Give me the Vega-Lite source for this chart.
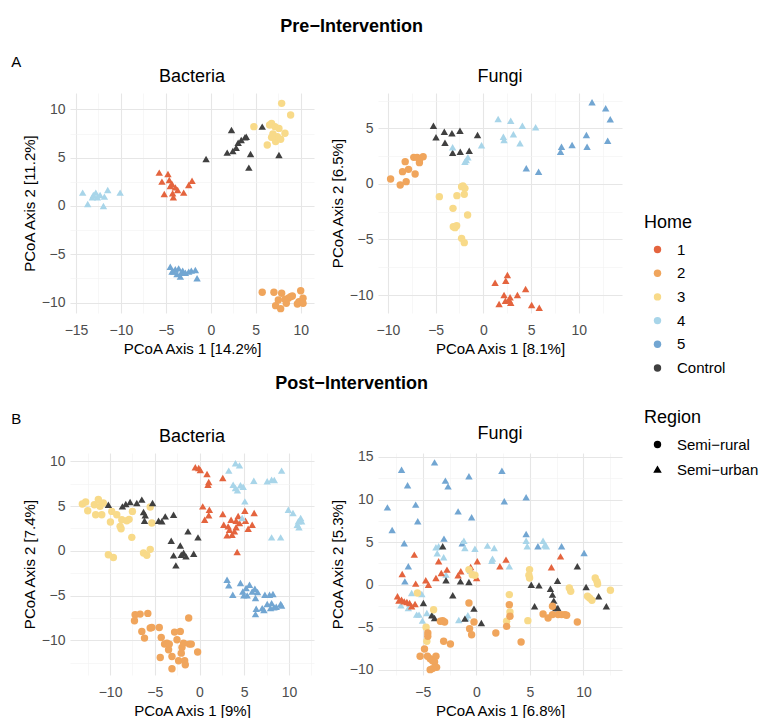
{
  "$schema": "https://vega.github.io/schema/vega-lite/v6.json",
  "background": "white",
  "padding": {"left": 11, "top": 18, "right": 0, "bottom": 0},
  "spacing": 18,
  "config": {
    "font": "Liberation Sans",
    "view": {"stroke": null},
    "axis": {
      "ticks": false,
      "domain": false,
      "labelFont": "Liberation Sans",
      "labelFontSize": 14,
      "labelColor": "#4D4D4D",
      "titleFont": "Liberation Sans",
      "titleFontSize": 15,
      "titleFontWeight": "normal",
      "titleColor": "#000000",
      "titlePadding": 4,
      "labelOverlap": false,
      "labelFlush": false
    },
    "axisX": {"labelPadding": 10},
    "axisY": {"labelPadding": 5},
    "legend": {
      "labelFont": "Liberation Sans",
      "labelFontSize": 15,
      "labelColor": "#000000",
      "titleFont": "Liberation Sans",
      "titleFontSize": 18,
      "titleFontWeight": "normal",
      "titleColor": "#000000"
    },
    "concat": {"spacing": 16}
  },
  "datasets": {
    "preBacteria": [
      {"home": "4", "region": "Semi−urban", "x": -14.26, "y": 1.38},
      {"home": "4", "region": "Semi−urban", "x": -13.7, "y": 0.21},
      {"home": "4", "region": "Semi−urban", "x": -13.07, "y": 1.14},
      {"home": "4", "region": "Semi−urban", "x": -12.8, "y": 1.38},
      {"home": "4", "region": "Semi−urban", "x": -12.62, "y": 0.9},
      {"home": "4", "region": "Semi−urban", "x": -12.32, "y": 1.14},
      {"home": "4", "region": "Semi−urban", "x": -11.95, "y": 0.0},
      {"home": "4", "region": "Semi−urban", "x": -11.84, "y": 0.97},
      {"home": "4", "region": "Semi−urban", "x": -11.47, "y": 1.66},
      {"home": "4", "region": "Semi−urban", "x": -10.09, "y": 1.38},
      {"home": "4", "region": "Semi−urban", "x": -13.18, "y": 0.9},
      {"home": "1", "region": "Semi−urban", "x": -5.74, "y": 3.45},
      {"home": "1", "region": "Semi−urban", "x": -5.44, "y": 2.52},
      {"home": "1", "region": "Semi−urban", "x": -5.18, "y": 1.24},
      {"home": "1", "region": "Semi−urban", "x": -4.77, "y": 3.31},
      {"home": "1", "region": "Semi−urban", "x": -4.62, "y": 2.69},
      {"home": "1", "region": "Semi−urban", "x": -4.51, "y": 2.07},
      {"home": "1", "region": "Semi−urban", "x": -4.25, "y": 1.31},
      {"home": "1", "region": "Semi−urban", "x": -4.17, "y": 0.9},
      {"home": "1", "region": "Semi−urban", "x": -3.95, "y": 1.93},
      {"home": "1", "region": "Semi−urban", "x": -3.69, "y": 1.66},
      {"home": "1", "region": "Semi−urban", "x": -3.02, "y": 1.38},
      {"home": "1", "region": "Semi−urban", "x": -2.46, "y": 2.17},
      {"home": "1", "region": "Semi−urban", "x": -2.09, "y": 2.62},
      {"home": "1", "region": "Semi−urban", "x": -4.32, "y": 2.28},
      {"home": "5", "region": "Semi−urban", "x": -4.51, "y": -6.28},
      {"home": "5", "region": "Semi−urban", "x": -4.32, "y": -6.79},
      {"home": "5", "region": "Semi−urban", "x": -3.95, "y": -6.55},
      {"home": "5", "region": "Semi−urban", "x": -3.76, "y": -7.03},
      {"home": "5", "region": "Semi−urban", "x": -3.58, "y": -6.45},
      {"home": "5", "region": "Semi−urban", "x": -3.39, "y": -7.31},
      {"home": "5", "region": "Semi−urban", "x": -3.13, "y": -6.69},
      {"home": "5", "region": "Semi−urban", "x": -2.83, "y": -6.9},
      {"home": "5", "region": "Semi−urban", "x": -2.46, "y": -6.79},
      {"home": "5", "region": "Semi−urban", "x": -2.17, "y": -6.69},
      {"home": "5", "region": "Semi−urban", "x": -1.72, "y": -6.62},
      {"home": "5", "region": "Semi−urban", "x": -1.53, "y": -7.48},
      {"home": "5", "region": "Semi−urban", "x": -4.14, "y": -6.79},
      {"home": "5", "region": "Semi−urban", "x": -3.28, "y": -6.9},
      {"home": "Control", "region": "Semi−urban", "x": -0.53, "y": 4.86},
      {"home": "Control", "region": "Semi−urban", "x": 1.82, "y": 5.52},
      {"home": "Control", "region": "Semi−urban", "x": 2.3, "y": 7.86},
      {"home": "Control", "region": "Semi−urban", "x": 2.45, "y": 5.69},
      {"home": "Control", "region": "Semi−urban", "x": 2.82, "y": 6.03},
      {"home": "Control", "region": "Semi−urban", "x": 3.04, "y": 6.55},
      {"home": "Control", "region": "Semi−urban", "x": 3.38, "y": 6.83},
      {"home": "Control", "region": "Semi−urban", "x": 3.79, "y": 7.1},
      {"home": "Control", "region": "Semi−urban", "x": 3.94, "y": 7.17},
      {"home": "Control", "region": "Semi−urban", "x": 4.42, "y": 5.38},
      {"home": "Control", "region": "Semi−urban", "x": 4.23, "y": 3.97},
      {"home": "Control", "region": "Semi−urban", "x": 5.72, "y": 8.21},
      {"home": "Control", "region": "Semi−urban", "x": 7.58, "y": 5.28},
      {"home": "3", "region": "Semi−rural", "x": 4.79, "y": 8.21},
      {"home": "3", "region": "Semi−rural", "x": 6.28, "y": 6.31},
      {"home": "3", "region": "Semi−rural", "x": 6.54, "y": 8.38},
      {"home": "3", "region": "Semi−rural", "x": 6.76, "y": 8.55},
      {"home": "3", "region": "Semi−rural", "x": 6.91, "y": 7.45},
      {"home": "3", "region": "Semi−rural", "x": 7.14, "y": 8.21},
      {"home": "3", "region": "Semi−rural", "x": 7.21, "y": 6.66},
      {"home": "3", "region": "Semi−rural", "x": 7.4, "y": 7.17},
      {"home": "3", "region": "Semi−rural", "x": 7.58, "y": 8.03},
      {"home": "3", "region": "Semi−rural", "x": 7.77, "y": 6.9},
      {"home": "3", "region": "Semi−rural", "x": 7.88, "y": 10.62},
      {"home": "3", "region": "Semi−rural", "x": 8.25, "y": 7.52},
      {"home": "3", "region": "Semi−rural", "x": 8.88, "y": 9.41},
      {"home": "3", "region": "Semi−rural", "x": 6.76, "y": 7.1},
      {"home": "2", "region": "Semi−rural", "x": 5.72, "y": -8.93},
      {"home": "2", "region": "Semi−rural", "x": 7.02, "y": -8.93},
      {"home": "2", "region": "Semi−rural", "x": 7.21, "y": -10.31},
      {"home": "2", "region": "Semi−rural", "x": 7.77, "y": -10.62},
      {"home": "2", "region": "Semi−rural", "x": 7.88, "y": -9.03},
      {"home": "2", "region": "Semi−rural", "x": 8.25, "y": -9.66},
      {"home": "2", "region": "Semi−rural", "x": 8.4, "y": -10.07},
      {"home": "2", "region": "Semi−rural", "x": 8.62, "y": -9.55},
      {"home": "2", "region": "Semi−rural", "x": 8.88, "y": -9.38},
      {"home": "2", "region": "Semi−rural", "x": 9.07, "y": -9.31},
      {"home": "2", "region": "Semi−rural", "x": 9.63, "y": -10.14},
      {"home": "2", "region": "Semi−rural", "x": 10.0, "y": -8.76},
      {"home": "2", "region": "Semi−rural", "x": 9.81, "y": -9.9},
      {"home": "2", "region": "Semi−rural", "x": 10.26, "y": -9.55},
      {"home": "2", "region": "Semi−rural", "x": 10.26, "y": -10.07},
      {"home": "2", "region": "Semi−rural", "x": 7.51, "y": -9.72}
    ],
    "preFungi": [
      {"home": "2", "region": "Semi−rural", "x": -9.72, "y": 0.44},
      {"home": "2", "region": "Semi−rural", "x": -8.71, "y": -0.1},
      {"home": "2", "region": "Semi−rural", "x": -8.47, "y": 1.1},
      {"home": "2", "region": "Semi−rural", "x": -8.19, "y": 2.0},
      {"home": "2", "region": "Semi−rural", "x": -8.09, "y": 0.2},
      {"home": "2", "region": "Semi−rural", "x": -7.84, "y": 1.31},
      {"home": "2", "region": "Semi−rural", "x": -7.29, "y": 2.39},
      {"home": "2", "region": "Semi−rural", "x": -7.15, "y": 0.89},
      {"home": "2", "region": "Semi−rural", "x": -6.94, "y": 2.39},
      {"home": "2", "region": "Semi−rural", "x": -6.7, "y": 1.91},
      {"home": "2", "region": "Semi−rural", "x": -6.66, "y": 2.21},
      {"home": "2", "region": "Semi−rural", "x": -6.31, "y": 2.45},
      {"home": "Control", "region": "Semi−urban", "x": -5.23, "y": 5.24},
      {"home": "Control", "region": "Semi−urban", "x": -4.96, "y": 4.19},
      {"home": "Control", "region": "Semi−urban", "x": -4.09, "y": 4.7},
      {"home": "Control", "region": "Semi−urban", "x": -4.02, "y": 3.71},
      {"home": "Control", "region": "Semi−urban", "x": -3.29, "y": 4.55},
      {"home": "Control", "region": "Semi−urban", "x": -3.22, "y": 2.81},
      {"home": "Control", "region": "Semi−urban", "x": -2.45, "y": 4.79},
      {"home": "Control", "region": "Semi−urban", "x": -2.42, "y": 2.9},
      {"home": "Control", "region": "Semi−urban", "x": -1.48, "y": 2.99},
      {"home": "Control", "region": "Semi−urban", "x": -0.61, "y": 4.4},
      {"home": "4", "region": "Semi−urban", "x": -3.22, "y": 3.29},
      {"home": "4", "region": "Semi−urban", "x": -1.93, "y": 2.0},
      {"home": "4", "region": "Semi−urban", "x": -1.79, "y": 2.15},
      {"home": "4", "region": "Semi−urban", "x": -1.62, "y": 2.39},
      {"home": "4", "region": "Semi−urban", "x": -0.19, "y": 3.47},
      {"home": "4", "region": "Semi−urban", "x": 1.55, "y": 5.84},
      {"home": "4", "region": "Semi−urban", "x": 2.1, "y": 4.25},
      {"home": "4", "region": "Semi−urban", "x": 2.17, "y": 3.95},
      {"home": "4", "region": "Semi−urban", "x": 2.87, "y": 5.69},
      {"home": "4", "region": "Semi−urban", "x": 3.15, "y": 4.46},
      {"home": "4", "region": "Semi−urban", "x": 4.09, "y": 5.24},
      {"home": "4", "region": "Semi−urban", "x": 3.84, "y": 3.65},
      {"home": "4", "region": "Semi−urban", "x": 5.48, "y": 5.09},
      {"home": "3", "region": "Semi−rural", "x": -4.61, "y": -1.15},
      {"home": "3", "region": "Semi−rural", "x": -3.18, "y": -2.2},
      {"home": "3", "region": "Semi−rural", "x": -2.77, "y": -1.06},
      {"home": "3", "region": "Semi−rural", "x": -2.28, "y": -0.25},
      {"home": "3", "region": "Semi−rural", "x": -2.14, "y": -0.19},
      {"home": "3", "region": "Semi−rural", "x": -2.0, "y": -0.94},
      {"home": "3", "region": "Semi−rural", "x": -1.93, "y": -0.4},
      {"home": "3", "region": "Semi−rural", "x": -1.65, "y": -2.8},
      {"home": "3", "region": "Semi−rural", "x": -3.15, "y": -3.85},
      {"home": "3", "region": "Semi−rural", "x": -2.97, "y": -3.94},
      {"home": "3", "region": "Semi−rural", "x": -2.8, "y": -3.76},
      {"home": "3", "region": "Semi−rural", "x": -2.28, "y": -4.9},
      {"home": "3", "region": "Semi−rural", "x": -2.0, "y": -5.29},
      {"home": "5", "region": "Semi−urban", "x": 4.5, "y": 1.4},
      {"home": "5", "region": "Semi−urban", "x": 5.79, "y": 1.1},
      {"home": "5", "region": "Semi−urban", "x": 8.09, "y": 2.9},
      {"home": "5", "region": "Semi−urban", "x": 8.19, "y": 3.35},
      {"home": "5", "region": "Semi−urban", "x": 9.3, "y": 3.5},
      {"home": "5", "region": "Semi−urban", "x": 10.8, "y": 4.4},
      {"home": "5", "region": "Semi−urban", "x": 10.87, "y": 3.35},
      {"home": "5", "region": "Semi−urban", "x": 11.39, "y": 7.34},
      {"home": "5", "region": "Semi−urban", "x": 12.82, "y": 6.8},
      {"home": "5", "region": "Semi−urban", "x": 13.03, "y": 3.89},
      {"home": "5", "region": "Semi−urban", "x": 13.3, "y": 5.81},
      {"home": "1", "region": "Semi−urban", "x": 1.23, "y": -8.89},
      {"home": "1", "region": "Semi−urban", "x": 1.65, "y": -10.81},
      {"home": "1", "region": "Semi−urban", "x": 2.17, "y": -10.0},
      {"home": "1", "region": "Semi−urban", "x": 2.35, "y": -8.71},
      {"home": "1", "region": "Semi−urban", "x": 2.52, "y": -8.2},
      {"home": "1", "region": "Semi−urban", "x": 2.31, "y": -10.51},
      {"home": "1", "region": "Semi−urban", "x": 2.7, "y": -10.45},
      {"home": "1", "region": "Semi−urban", "x": 2.8, "y": -10.21},
      {"home": "1", "region": "Semi−urban", "x": 2.87, "y": -10.69},
      {"home": "1", "region": "Semi−urban", "x": 3.57, "y": -10.0},
      {"home": "1", "region": "Semi−urban", "x": 4.43, "y": -9.46},
      {"home": "1", "region": "Semi−urban", "x": 5.06, "y": -10.9},
      {"home": "1", "region": "Semi−urban", "x": 5.86, "y": -11.14}
    ],
    "postBacteria": [
      {"home": "3", "region": "Semi−rural", "x": -13.1, "y": 5.23},
      {"home": "3", "region": "Semi−rural", "x": -12.73, "y": 5.46},
      {"home": "3", "region": "Semi−rural", "x": -12.5, "y": 4.49},
      {"home": "3", "region": "Semi−rural", "x": -11.76, "y": 5.16},
      {"home": "3", "region": "Semi−rural", "x": -11.61, "y": 4.04},
      {"home": "3", "region": "Semi−rural", "x": -11.31, "y": 5.75},
      {"home": "3", "region": "Semi−rural", "x": -11.12, "y": 4.97},
      {"home": "3", "region": "Semi−rural", "x": -10.75, "y": 5.34},
      {"home": "3", "region": "Semi−rural", "x": -10.93, "y": 4.04},
      {"home": "3", "region": "Semi−rural", "x": -10.19, "y": -0.43},
      {"home": "3", "region": "Semi−rural", "x": -9.81, "y": 4.41},
      {"home": "3", "region": "Semi−rural", "x": -9.63, "y": -0.73},
      {"home": "3", "region": "Semi−rural", "x": -9.96, "y": 3.22},
      {"home": "3", "region": "Semi−rural", "x": -9.25, "y": 4.04},
      {"home": "3", "region": "Semi−rural", "x": -8.88, "y": 2.74},
      {"home": "3", "region": "Semi−rural", "x": -8.77, "y": 2.48},
      {"home": "3", "region": "Semi−rural", "x": -8.69, "y": 3.48},
      {"home": "3", "region": "Semi−rural", "x": -8.13, "y": 3.37},
      {"home": "3", "region": "Semi−rural", "x": -7.87, "y": 3.52},
      {"home": "3", "region": "Semi−rural", "x": -7.57, "y": 1.51},
      {"home": "3", "region": "Semi−rural", "x": -7.5, "y": 4.41},
      {"home": "3", "region": "Semi−rural", "x": -6.26, "y": -0.24},
      {"home": "3", "region": "Semi−rural", "x": -5.89, "y": -0.5},
      {"home": "3", "region": "Semi−rural", "x": -5.51, "y": 0.17},
      {"home": "3", "region": "Semi−rural", "x": -5.51, "y": 4.9},
      {"home": "3", "region": "Semi−rural", "x": -5.33, "y": 3.11},
      {"home": "Control", "region": "Semi−urban", "x": -10.19, "y": 5.16},
      {"home": "Control", "region": "Semi−urban", "x": -8.62, "y": 4.97},
      {"home": "Control", "region": "Semi−urban", "x": -8.24, "y": 5.23},
      {"home": "Control", "region": "Semi−urban", "x": -7.76, "y": 5.46},
      {"home": "Control", "region": "Semi−urban", "x": -7.01, "y": 5.34},
      {"home": "Control", "region": "Semi−urban", "x": -6.45, "y": 5.72},
      {"home": "Control", "region": "Semi−urban", "x": -6.26, "y": 4.34},
      {"home": "Control", "region": "Semi−urban", "x": -6.07, "y": 3.97},
      {"home": "Control", "region": "Semi−urban", "x": -6.15, "y": 3.37},
      {"home": "Control", "region": "Semi−urban", "x": -5.25, "y": 5.34},
      {"home": "Control", "region": "Semi−urban", "x": -4.58, "y": 3.37},
      {"home": "Control", "region": "Semi−urban", "x": -4.21, "y": 3.3},
      {"home": "Control", "region": "Semi−urban", "x": -3.83, "y": 3.85},
      {"home": "Control", "region": "Semi−urban", "x": -2.9, "y": 4.04},
      {"home": "Control", "region": "Semi−urban", "x": -3.16, "y": 1.14},
      {"home": "Control", "region": "Semi−urban", "x": -2.9, "y": -0.5},
      {"home": "Control", "region": "Semi−urban", "x": -2.15, "y": 0.61},
      {"home": "Control", "region": "Semi−urban", "x": -2.04, "y": -0.43},
      {"home": "Control", "region": "Semi−urban", "x": -1.78, "y": -0.2},
      {"home": "Control", "region": "Semi−urban", "x": -1.51, "y": -0.61},
      {"home": "Control", "region": "Semi−urban", "x": -1.29, "y": 2.18},
      {"home": "Control", "region": "Semi−urban", "x": -0.65, "y": -0.32},
      {"home": "Control", "region": "Semi−urban", "x": -0.17, "y": 1.51},
      {"home": "Control", "region": "Semi−urban", "x": -2.64, "y": -1.62},
      {"home": "1", "region": "Semi−urban", "x": -0.47, "y": 9.33},
      {"home": "1", "region": "Semi−urban", "x": -0.09, "y": 9.26},
      {"home": "1", "region": "Semi−urban", "x": 0.09, "y": 9.03},
      {"home": "1", "region": "Semi−urban", "x": 0.84, "y": 8.58},
      {"home": "1", "region": "Semi−urban", "x": 0.95, "y": 7.39},
      {"home": "1", "region": "Semi−urban", "x": 1.03, "y": 7.69},
      {"home": "1", "region": "Semi−urban", "x": 0.36, "y": 4.97},
      {"home": "1", "region": "Semi−urban", "x": 0.58, "y": 3.48},
      {"home": "1", "region": "Semi−urban", "x": 1.03, "y": 3.97},
      {"home": "1", "region": "Semi−urban", "x": 1.1, "y": 4.6},
      {"home": "1", "region": "Semi−urban", "x": 2.6, "y": 8.14},
      {"home": "1", "region": "Semi−urban", "x": 2.6, "y": 4.12},
      {"home": "1", "region": "Semi−urban", "x": 2.71, "y": 2.92},
      {"home": "1", "region": "Semi−urban", "x": 3.2, "y": 2.74},
      {"home": "1", "region": "Semi−urban", "x": 3.35, "y": 2.36},
      {"home": "1", "region": "Semi−urban", "x": 3.53, "y": 3.48},
      {"home": "1", "region": "Semi−urban", "x": 3.64, "y": 1.81},
      {"home": "1", "region": "Semi−urban", "x": 3.91, "y": 2.18},
      {"home": "1", "region": "Semi−urban", "x": 4.09, "y": 3.37},
      {"home": "1", "region": "Semi−urban", "x": 4.09, "y": 2.63},
      {"home": "1", "region": "Semi−urban", "x": 4.32, "y": 3.89},
      {"home": "1", "region": "Semi−urban", "x": 4.47, "y": 3.11},
      {"home": "1", "region": "Semi−urban", "x": 5.07, "y": 4.49},
      {"home": "1", "region": "Semi−urban", "x": 5.14, "y": 3.37},
      {"home": "1", "region": "Semi−urban", "x": 5.44, "y": 2.48},
      {"home": "1", "region": "Semi−urban", "x": 5.89, "y": 2.92},
      {"home": "1", "region": "Semi−urban", "x": 6.11, "y": 4.23},
      {"home": "1", "region": "Semi−urban", "x": 4.21, "y": -0.13},
      {"home": "1", "region": "Semi−urban", "x": 3.08, "y": 1.73},
      {"home": "4", "region": "Semi−urban", "x": 3.27, "y": 8.96},
      {"home": "4", "region": "Semi−urban", "x": 4.02, "y": 9.78},
      {"home": "4", "region": "Semi−urban", "x": 4.47, "y": 9.55},
      {"home": "4", "region": "Semi−urban", "x": 3.76, "y": 7.39},
      {"home": "4", "region": "Semi−urban", "x": 4.02, "y": 7.02},
      {"home": "4", "region": "Semi−urban", "x": 4.24, "y": 6.76},
      {"home": "4", "region": "Semi−urban", "x": 4.58, "y": 7.32},
      {"home": "4", "region": "Semi−urban", "x": 4.88, "y": 7.17},
      {"home": "4", "region": "Semi−urban", "x": 5.07, "y": 5.53},
      {"home": "4", "region": "Semi−urban", "x": 4.77, "y": 3.67},
      {"home": "4", "region": "Semi−urban", "x": 6.07, "y": 7.84},
      {"home": "4", "region": "Semi−urban", "x": 7.57, "y": 7.77},
      {"home": "4", "region": "Semi−urban", "x": 8.06, "y": 7.95},
      {"home": "4", "region": "Semi−urban", "x": 8.36, "y": 7.91},
      {"home": "4", "region": "Semi−urban", "x": 9.18, "y": 8.96},
      {"home": "4", "region": "Semi−urban", "x": 8.06, "y": 1.51},
      {"home": "4", "region": "Semi−urban", "x": 9.07, "y": 1.51},
      {"home": "4", "region": "Semi−urban", "x": 9.93, "y": 4.6},
      {"home": "4", "region": "Semi−urban", "x": 10.45, "y": 4.23},
      {"home": "4", "region": "Semi−urban", "x": 10.93, "y": 2.92},
      {"home": "4", "region": "Semi−urban", "x": 11.05, "y": 3.3},
      {"home": "4", "region": "Semi−urban", "x": 11.31, "y": 3.67},
      {"home": "4", "region": "Semi−urban", "x": 11.42, "y": 3.3},
      {"home": "4", "region": "Semi−urban", "x": 11.12, "y": 2.63},
      {"home": "5", "region": "Semi−urban", "x": 3.08, "y": -3.22},
      {"home": "5", "region": "Semi−urban", "x": 3.27, "y": -3.85},
      {"home": "5", "region": "Semi−urban", "x": 3.72, "y": -4.9},
      {"home": "5", "region": "Semi−urban", "x": 4.58, "y": -3.59},
      {"home": "5", "region": "Semi−urban", "x": 4.84, "y": -4.53},
      {"home": "5", "region": "Semi−urban", "x": 4.95, "y": -4.97},
      {"home": "5", "region": "Semi−urban", "x": 5.21, "y": -4.15},
      {"home": "5", "region": "Semi−urban", "x": 5.33, "y": -4.97},
      {"home": "5", "region": "Semi−urban", "x": 5.59, "y": -3.78},
      {"home": "5", "region": "Semi−urban", "x": 5.89, "y": -4.53},
      {"home": "5", "region": "Semi−urban", "x": 6.19, "y": -4.23},
      {"home": "5", "region": "Semi−urban", "x": 6.26, "y": -5.27},
      {"home": "5", "region": "Semi−urban", "x": 6.49, "y": -4.6},
      {"home": "5", "region": "Semi−urban", "x": 6.26, "y": -7.06},
      {"home": "5", "region": "Semi−urban", "x": 6.34, "y": -6.46},
      {"home": "5", "region": "Semi−urban", "x": 7.01, "y": -6.39},
      {"home": "5", "region": "Semi−urban", "x": 7.2, "y": -6.61},
      {"home": "5", "region": "Semi−urban", "x": 7.31, "y": -4.9},
      {"home": "5", "region": "Semi−urban", "x": 7.57, "y": -5.94},
      {"home": "5", "region": "Semi−urban", "x": 7.83, "y": -4.9},
      {"home": "5", "region": "Semi−urban", "x": 7.94, "y": -6.39},
      {"home": "5", "region": "Semi−urban", "x": 8.21, "y": -4.82},
      {"home": "5", "region": "Semi−urban", "x": 8.32, "y": -6.31},
      {"home": "5", "region": "Semi−urban", "x": 8.58, "y": -6.24},
      {"home": "5", "region": "Semi−urban", "x": 9.07, "y": -5.94},
      {"home": "5", "region": "Semi−urban", "x": 9.18, "y": -6.09},
      {"home": "5", "region": "Semi−urban", "x": 8.06, "y": -5.83},
      {"home": "2", "region": "Semi−rural", "x": -7.27, "y": -7.8},
      {"home": "2", "region": "Semi−rural", "x": -7.2, "y": -7.13},
      {"home": "2", "region": "Semi−rural", "x": -6.64, "y": -7.06},
      {"home": "2", "region": "Semi−rural", "x": -5.78, "y": -6.98},
      {"home": "2", "region": "Semi−rural", "x": -6.45, "y": -8.99},
      {"home": "2", "region": "Semi−rural", "x": -6.15, "y": -9.74},
      {"home": "2", "region": "Semi−rural", "x": -5.51, "y": -8.62},
      {"home": "2", "region": "Semi−rural", "x": -5.33, "y": -8.55},
      {"home": "2", "region": "Semi−rural", "x": -4.5, "y": -8.55},
      {"home": "2", "region": "Semi−rural", "x": -4.28, "y": -9.67},
      {"home": "2", "region": "Semi−rural", "x": -4.39, "y": -11.9},
      {"home": "2", "region": "Semi−rural", "x": -3.91, "y": -10.41},
      {"home": "2", "region": "Semi−rural", "x": -3.64, "y": -10.3},
      {"home": "2", "region": "Semi−rural", "x": -3.46, "y": -11.04},
      {"home": "2", "region": "Semi−rural", "x": -2.79, "y": -9.07},
      {"home": "2", "region": "Semi−rural", "x": -3.08, "y": -11.79},
      {"home": "2", "region": "Semi−rural", "x": -3.08, "y": -13.17},
      {"home": "2", "region": "Semi−rural", "x": -2.52, "y": -9.93},
      {"home": "2", "region": "Semi−rural", "x": -2.15, "y": -8.99},
      {"home": "2", "region": "Semi−rural", "x": -1.96, "y": -10.78},
      {"home": "2", "region": "Semi−rural", "x": -2.04, "y": -11.42},
      {"home": "2", "region": "Semi−rural", "x": -1.78, "y": -10.3},
      {"home": "2", "region": "Semi−rural", "x": -2.34, "y": -12.27},
      {"home": "2", "region": "Semi−rural", "x": -1.66, "y": -12.27},
      {"home": "2", "region": "Semi−rural", "x": -1.59, "y": -12.72},
      {"home": "2", "region": "Semi−rural", "x": -1.21, "y": -7.5},
      {"home": "2", "region": "Semi−rural", "x": -1.14, "y": -10.41},
      {"home": "2", "region": "Semi−rural", "x": -0.92, "y": -10.41},
      {"home": "2", "region": "Semi−rural", "x": -0.21, "y": -11.3},
      {"home": "2", "region": "Semi−rural", "x": -3.38, "y": -10.41}
    ],
    "postFungi": [
      {"home": "5", "region": "Semi−urban", "x": -8.3, "y": 9.08},
      {"home": "5", "region": "Semi−urban", "x": -7.86, "y": 6.42},
      {"home": "5", "region": "Semi−urban", "x": -6.98, "y": 13.51},
      {"home": "5", "region": "Semi−urban", "x": -6.73, "y": 4.85},
      {"home": "5", "region": "Semi−urban", "x": -6.67, "y": 0.38},
      {"home": "5", "region": "Semi−urban", "x": -6.42, "y": 11.67},
      {"home": "5", "region": "Semi−urban", "x": -6.35, "y": 2.15},
      {"home": "5", "region": "Semi−urban", "x": -5.66, "y": 9.4},
      {"home": "5", "region": "Semi−urban", "x": -5.47, "y": 7.44},
      {"home": "5", "region": "Semi−urban", "x": -3.9, "y": 14.37},
      {"home": "5", "region": "Semi−urban", "x": -2.89, "y": 12.22},
      {"home": "5", "region": "Semi−urban", "x": -2.64, "y": 11.55},
      {"home": "5", "region": "Semi−urban", "x": -1.7, "y": 8.61},
      {"home": "5", "region": "Semi−urban", "x": -1.32, "y": 4.85},
      {"home": "5", "region": "Semi−urban", "x": -3.02, "y": 5.4},
      {"home": "5", "region": "Semi−urban", "x": -0.69, "y": 12.73},
      {"home": "5", "region": "Semi−urban", "x": -0.44, "y": 7.91},
      {"home": "5", "region": "Semi−urban", "x": -0.53, "y": 1.68},
      {"home": "5", "region": "Semi−urban", "x": 2.39, "y": 13.39},
      {"home": "5", "region": "Semi−urban", "x": 2.61, "y": 9.79},
      {"home": "5", "region": "Semi−urban", "x": 4.65, "y": 10.26},
      {"home": "5", "region": "Semi−urban", "x": 4.65, "y": 5.95},
      {"home": "5", "region": "Semi−urban", "x": 5.75, "y": 4.5},
      {"home": "5", "region": "Semi−urban", "x": 7.96, "y": 4.5},
      {"home": "5", "region": "Semi−urban", "x": 10.06, "y": 3.71},
      {"home": "4", "region": "Semi−urban", "x": -7.04, "y": -2.44},
      {"home": "4", "region": "Semi−urban", "x": -6.35, "y": -2.75},
      {"home": "4", "region": "Semi−urban", "x": -6.04, "y": -0.99},
      {"home": "4", "region": "Semi−urban", "x": -5.57, "y": -3.53},
      {"home": "4", "region": "Semi−urban", "x": -5.35, "y": -3.53},
      {"home": "4", "region": "Semi−urban", "x": -5.09, "y": -1.1},
      {"home": "4", "region": "Semi−urban", "x": -5.03, "y": -4.24},
      {"home": "4", "region": "Semi−urban", "x": -4.62, "y": -3.34},
      {"home": "4", "region": "Semi−urban", "x": -4.15, "y": -3.53},
      {"home": "4", "region": "Semi−urban", "x": -3.77, "y": 4.38},
      {"home": "4", "region": "Semi−urban", "x": -3.65, "y": 3.68},
      {"home": "4", "region": "Semi−urban", "x": -3.52, "y": 4.5},
      {"home": "4", "region": "Semi−urban", "x": -3.05, "y": 3.21},
      {"home": "4", "region": "Semi−urban", "x": -2.83, "y": 1.17},
      {"home": "4", "region": "Semi−urban", "x": -1.64, "y": -4.16},
      {"home": "4", "region": "Semi−urban", "x": -1.16, "y": 5.16},
      {"home": "4", "region": "Semi−urban", "x": -1.07, "y": 4.3},
      {"home": "4", "region": "Semi−urban", "x": -0.94, "y": -3.93},
      {"home": "4", "region": "Semi−urban", "x": -0.79, "y": -3.61},
      {"home": "4", "region": "Semi−urban", "x": -0.13, "y": 4.22},
      {"home": "4", "region": "Semi−urban", "x": 1.04, "y": 4.58},
      {"home": "4", "region": "Semi−urban", "x": 1.51, "y": 3.05},
      {"home": "4", "region": "Semi−urban", "x": 1.67, "y": 4.3},
      {"home": "4", "region": "Semi−urban", "x": 1.45, "y": 2.81},
      {"home": "4", "region": "Semi−urban", "x": 3.08, "y": 2.15},
      {"home": "4", "region": "Semi−urban", "x": 4.65, "y": 5.16},
      {"home": "4", "region": "Semi−urban", "x": 4.75, "y": 4.5},
      {"home": "4", "region": "Semi−urban", "x": 6.23, "y": 5.16},
      {"home": "4", "region": "Semi−urban", "x": 6.38, "y": 4.62},
      {"home": "4", "region": "Semi−urban", "x": 6.54, "y": 4.5},
      {"home": "1", "region": "Semi−urban", "x": -7.36, "y": -1.38},
      {"home": "1", "region": "Semi−urban", "x": -7.23, "y": -1.89},
      {"home": "1", "region": "Semi−urban", "x": -6.98, "y": -1.77},
      {"home": "1", "region": "Semi−urban", "x": -6.92, "y": 1.25},
      {"home": "1", "region": "Semi−urban", "x": -6.73, "y": -1.97},
      {"home": "1", "region": "Semi−urban", "x": -6.48, "y": -2.05},
      {"home": "1", "region": "Semi−urban", "x": -6.23, "y": -2.16},
      {"home": "1", "region": "Semi−urban", "x": -6.04, "y": -2.55},
      {"home": "1", "region": "Semi−urban", "x": -5.72, "y": -2.28},
      {"home": "1", "region": "Semi−urban", "x": -5.79, "y": 3.52},
      {"home": "1", "region": "Semi−urban", "x": -5.66, "y": 0.11},
      {"home": "1", "region": "Semi−urban", "x": -4.72, "y": 0.5},
      {"home": "1", "region": "Semi−urban", "x": -4.47, "y": -0.01},
      {"home": "1", "region": "Semi−urban", "x": -3.77, "y": 0.78},
      {"home": "1", "region": "Semi−urban", "x": -3.52, "y": 2.74},
      {"home": "1", "region": "Semi−urban", "x": -3.27, "y": 1.36},
      {"home": "1", "region": "Semi−urban", "x": -2.74, "y": 1.76},
      {"home": "1", "region": "Semi−urban", "x": -1.7, "y": 1.09},
      {"home": "1", "region": "Semi−urban", "x": -1.45, "y": 1.56},
      {"home": "1", "region": "Semi−urban", "x": -0.53, "y": 2.07},
      {"home": "1", "region": "Semi−urban", "x": 0.09, "y": 2.74},
      {"home": "1", "region": "Semi−urban", "x": 0.03, "y": 0.78},
      {"home": "1", "region": "Semi−urban", "x": 2.2, "y": 2.15},
      {"home": "1", "region": "Semi−urban", "x": 2.77, "y": 2.93},
      {"home": "1", "region": "Semi−urban", "x": 7.01, "y": 2.03},
      {"home": "1", "region": "Semi−urban", "x": 7.86, "y": 3.32},
      {"home": "Control", "region": "Semi−urban", "x": -4.94, "y": -2.16},
      {"home": "Control", "region": "Semi−urban", "x": -4.15, "y": -3.61},
      {"home": "Control", "region": "Semi−urban", "x": -3.9, "y": -3.93},
      {"home": "Control", "region": "Semi−urban", "x": -3.14, "y": 4.5},
      {"home": "Control", "region": "Semi−urban", "x": -2.83, "y": 0.5},
      {"home": "Control", "region": "Semi−urban", "x": -2.2, "y": -1.26},
      {"home": "Control", "region": "Semi−urban", "x": -1.48, "y": 0.38},
      {"home": "Control", "region": "Semi−urban", "x": -0.69, "y": 0.31},
      {"home": "Control", "region": "Semi−urban", "x": -0.22, "y": -2.83},
      {"home": "Control", "region": "Semi−urban", "x": -1.07, "y": -4.0},
      {"home": "Control", "region": "Semi−urban", "x": 0.47, "y": -4.51},
      {"home": "Control", "region": "Semi−urban", "x": 5.13, "y": -0.01},
      {"home": "Control", "region": "Semi−urban", "x": 5.85, "y": -0.09},
      {"home": "Control", "region": "Semi−urban", "x": 5.44, "y": -2.55},
      {"home": "Control", "region": "Semi−urban", "x": 6.92, "y": -0.48},
      {"home": "Control", "region": "Semi−urban", "x": 7.11, "y": -1.18},
      {"home": "Control", "region": "Semi−urban", "x": 7.23, "y": -1.89},
      {"home": "Control", "region": "Semi−urban", "x": 7.42, "y": -2.75},
      {"home": "Control", "region": "Semi−urban", "x": 7.61, "y": -2.75},
      {"home": "Control", "region": "Semi−urban", "x": 7.58, "y": 0.46},
      {"home": "Control", "region": "Semi−urban", "x": 9.43, "y": 2.15},
      {"home": "Control", "region": "Semi−urban", "x": 10.25, "y": -0.28},
      {"home": "Control", "region": "Semi−urban", "x": 11.42, "y": -1.38},
      {"home": "Control", "region": "Semi−urban", "x": 12.14, "y": -2.55},
      {"home": "3", "region": "Semi−rural", "x": -5.5, "y": -0.99},
      {"home": "3", "region": "Semi−rural", "x": -3.99, "y": -2.95},
      {"home": "3", "region": "Semi−rural", "x": -4.69, "y": -5.02},
      {"home": "3", "region": "Semi−rural", "x": -4.62, "y": -6.67},
      {"home": "3", "region": "Semi−rural", "x": -0.69, "y": 1.76},
      {"home": "3", "region": "Semi−rural", "x": -0.38, "y": 1.17},
      {"home": "3", "region": "Semi−rural", "x": -0.13, "y": 1.09},
      {"home": "3", "region": "Semi−rural", "x": 3.08, "y": -1.18},
      {"home": "3", "region": "Semi−rural", "x": 3.14, "y": -3.22},
      {"home": "3", "region": "Semi−rural", "x": 2.83, "y": -4.32},
      {"home": "3", "region": "Semi−rural", "x": 4.81, "y": -4.24},
      {"home": "3", "region": "Semi−rural", "x": 4.97, "y": 1.76},
      {"home": "3", "region": "Semi−rural", "x": 4.91, "y": 1.09},
      {"home": "3", "region": "Semi−rural", "x": 4.97, "y": 0.78},
      {"home": "3", "region": "Semi−rural", "x": 8.68, "y": -0.4},
      {"home": "3", "region": "Semi−rural", "x": 8.81, "y": -0.79},
      {"home": "3", "region": "Semi−rural", "x": 10.38, "y": -1.38},
      {"home": "3", "region": "Semi−rural", "x": 10.57, "y": -1.58},
      {"home": "3", "region": "Semi−rural", "x": 10.79, "y": -1.85},
      {"home": "3", "region": "Semi−rural", "x": 11.1, "y": 0.78},
      {"home": "3", "region": "Semi−rural", "x": 11.26, "y": 0.38},
      {"home": "3", "region": "Semi−rural", "x": 11.32, "y": 0.07},
      {"home": "3", "region": "Semi−rural", "x": 12.52, "y": -0.67},
      {"home": "2", "region": "Semi−rural", "x": -5.25, "y": -8.43},
      {"home": "2", "region": "Semi−rural", "x": -4.84, "y": -7.57},
      {"home": "2", "region": "Semi−rural", "x": -4.56, "y": -8.43},
      {"home": "2", "region": "Semi−rural", "x": -4.53, "y": -5.69},
      {"home": "2", "region": "Semi−rural", "x": -4.53, "y": -6.08},
      {"home": "2", "region": "Semi−rural", "x": -4.31, "y": -8.71},
      {"home": "2", "region": "Semi−rural", "x": -4.09, "y": -8.94},
      {"home": "2", "region": "Semi−rural", "x": -3.9, "y": -9.1},
      {"home": "2", "region": "Semi−rural", "x": -3.77, "y": -8.43},
      {"home": "2", "region": "Semi−rural", "x": -3.71, "y": -9.73},
      {"home": "2", "region": "Semi−rural", "x": -4.09, "y": -9.88},
      {"home": "2", "region": "Semi−rural", "x": -4.31, "y": -10.0},
      {"home": "2", "region": "Semi−rural", "x": -3.36, "y": -4.32},
      {"home": "2", "region": "Semi−rural", "x": -3.14, "y": -4.24},
      {"home": "2", "region": "Semi−rural", "x": -2.96, "y": -4.4},
      {"home": "2", "region": "Semi−rural", "x": -3.05, "y": -6.67},
      {"home": "2", "region": "Semi−rural", "x": -2.42, "y": -6.98},
      {"home": "2", "region": "Semi−rural", "x": -0.69, "y": -2.16},
      {"home": "2", "region": "Semi−rural", "x": -0.63, "y": -5.18},
      {"home": "2", "region": "Semi−rural", "x": -0.44, "y": -5.89},
      {"home": "2", "region": "Semi−rural", "x": -0.22, "y": -4.4},
      {"home": "2", "region": "Semi−rural", "x": 1.82, "y": -5.69},
      {"home": "2", "region": "Semi−rural", "x": 3.08, "y": -2.36},
      {"home": "2", "region": "Semi−rural", "x": 3.14, "y": -3.73},
      {"home": "2", "region": "Semi−rural", "x": 2.83, "y": -4.91},
      {"home": "2", "region": "Semi−rural", "x": 4.18, "y": -6.75},
      {"home": "2", "region": "Semi−rural", "x": 6.23, "y": -3.46},
      {"home": "2", "region": "Semi−rural", "x": 6.7, "y": -3.93},
      {"home": "2", "region": "Semi−rural", "x": 7.11, "y": -2.55},
      {"home": "2", "region": "Semi−rural", "x": 7.11, "y": -3.53},
      {"home": "2", "region": "Semi−rural", "x": 7.64, "y": -3.53},
      {"home": "2", "region": "Semi−rural", "x": 7.96, "y": -3.53},
      {"home": "2", "region": "Semi−rural", "x": 8.27, "y": -3.53},
      {"home": "2", "region": "Semi−rural", "x": 8.43, "y": -3.61},
      {"home": "2", "region": "Semi−rural", "x": 9.43, "y": -4.4}
    ]
  },
  "vconcat": [
    {
      "title": {"text": "Pre−Intervention", "fontSize": 18, "fontWeight": "bold", "anchor": "middle", "dx": 35, "offset": 19},
      "vconcat": [
        {
          "title": {"text": "A", "fontSize": 15, "fontWeight": "normal", "anchor": "start", "dx": -11, "offset": -2},
          "hconcat": [
            {
              "title": {"text": "Bacteria", "fontSize": 18, "fontWeight": "normal", "offset": 7},
              "width": 244, "height": 220,
              "data": {"name": "preBacteria"},
              "mark": {"type": "point", "filled": true, "size": 55, "opacity": 1, "strokeWidth": 0},
              "encoding": {
                "x": {"field": "x", "type": "quantitative",
                  "scale": {"domain": [-15.67, 11.48], "nice": false, "zero": false},
                  "axis": {"title": "PCoA Axis 1 [14.2%]", "values": [-15, -12.5, -10, -7.5, -5, -2.5, 0, 2.5, 5, 7.5, 10],
                    "labelExpr": "datum.value % 5 === 0 ? datum.label : ''",
                    "gridColor": {"condition": {"test": "datum.value % 5 !== 0", "value": "#F2F2F2"}, "value": "#E6E6E6"},
                    "gridWidth": {"condition": {"test": "datum.value % 5 !== 0", "value": 0.6}, "value": 1.1}}},
                "y": {"field": "y", "type": "quantitative",
                  "scale": {"domain": [-11.07, 11.69], "nice": false, "zero": false},
                  "axis": {"title": "PCoA Axis 2 [11.2%]", "values": [-10, -7.5, -5, -2.5, 0, 2.5, 5, 7.5, 10],
                    "labelExpr": "datum.value % 5 === 0 ? datum.label : ''",
                    "gridColor": {"condition": {"test": "datum.value % 5 !== 0", "value": "#F2F2F2"}, "value": "#E6E6E6"},
                    "gridWidth": {"condition": {"test": "datum.value % 5 !== 0", "value": 0.6}, "value": 1.1}}},
                "color": {"field": "home", "type": "nominal",
                  "scale": {"domain": ["1", "2", "3", "4", "5", "Control"], "range": ["#E4643E", "#F0A55C", "#F8DA89", "#A8D5E9", "#72A6D2", "#404040"]},
                  "legend": {"title": "Home", "orient": "none", "legendX": 574, "legendY": 121, "symbolType": "circle", "symbolSize": 55, "rowPadding": 7.7, "titlePadding": 10, "symbolOffset": 6, "labelOffset": 12}},
                "shape": {"field": "region", "type": "nominal",
                  "scale": {"domain": ["Semi−rural", "Semi−urban"], "range": ["circle", "triangle-up"]},
                  "legend": {"title": "Region", "orient": "none", "legendX": 574, "legendY": 316, "symbolSize": 35, "symbolFillColor": "#000000", "symbolStrokeColor": "#000000", "rowPadding": 9, "titlePadding": 10, "symbolOffset": 6, "labelOffset": 12}}
              }
            },
            {
              "title": {"text": "Fungi", "fontSize": 18, "fontWeight": "normal", "offset": 7},
              "width": 244, "height": 220,
              "data": {"name": "preFungi"},
              "mark": {"type": "point", "filled": true, "size": 55, "opacity": 1, "strokeWidth": 0},
              "encoding": {
                "x": {"field": "x", "type": "quantitative",
                  "scale": {"domain": [-11.04, 14.53], "nice": false, "zero": false},
                  "axis": {"title": "PCoA Axis 1 [8.1%]", "values": [-10, -7.5, -5, -2.5, 0, 2.5, 5, 7.5, 10, 12.5],
                    "labelExpr": "datum.value % 5 === 0 ? datum.label : ''",
                    "gridColor": {"condition": {"test": "datum.value % 5 !== 0", "value": "#F2F2F2"}, "value": "#E6E6E6"},
                    "gridWidth": {"condition": {"test": "datum.value % 5 !== 0", "value": 0.6}, "value": 1.1}}},
                "y": {"field": "y", "type": "quantitative",
                  "scale": {"domain": [-11.62, 8.18], "nice": false, "zero": false},
                  "axis": {"title": "PCoA Axis 2 [6.5%]", "values": [-10, -7.5, -5, -2.5, 0, 2.5, 5, 7.5],
                    "labelExpr": "datum.value % 5 === 0 ? datum.label : ''",
                    "gridColor": {"condition": {"test": "datum.value % 5 !== 0", "value": "#F2F2F2"}, "value": "#E6E6E6"},
                    "gridWidth": {"condition": {"test": "datum.value % 5 !== 0", "value": 0.6}, "value": 1.1}}},
                "color": {"field": "home", "type": "nominal",
                  "scale": {"domain": ["1", "2", "3", "4", "5", "Control"], "range": ["#E4643E", "#F0A55C", "#F8DA89", "#A8D5E9", "#72A6D2", "#404040"]}},
                "shape": {"field": "region", "type": "nominal",
                  "scale": {"domain": ["Semi−rural", "Semi−urban"], "range": ["circle", "triangle-up"]}}
              }
            }
          ]
        }
      ]
    },
    {
      "title": {"text": "Post−Intervention", "fontSize": 18, "fontWeight": "bold", "anchor": "middle", "dx": 35, "offset": 19},
      "vconcat": [
        {
          "title": {"text": "B", "fontSize": 15, "fontWeight": "normal", "anchor": "start", "dx": -11, "offset": -2},
          "hconcat": [
            {
              "title": {"text": "Bacteria", "fontSize": 18, "fontWeight": "normal", "offset": 7},
              "width": 244, "height": 222,
              "data": {"name": "postBacteria"},
              "mark": {"type": "point", "filled": true, "size": 55, "opacity": 1, "strokeWidth": 0},
              "encoding": {
                "x": {"field": "x", "type": "quantitative",
                  "scale": {"domain": [-14.48, 12.8], "nice": false, "zero": false},
                  "axis": {"title": "PCoA Axis 1 [9%]", "values": [-12.5, -10, -7.5, -5, -2.5, 0, 2.5, 5, 7.5, 10, 12.5],
                    "labelExpr": "datum.value % 5 === 0 ? datum.label : ''",
                    "gridColor": {"condition": {"test": "datum.value % 5 !== 0", "value": "#F2F2F2"}, "value": "#E6E6E6"},
                    "gridWidth": {"condition": {"test": "datum.value % 5 !== 0", "value": 0.6}, "value": 1.1}}},
                "y": {"field": "y", "type": "quantitative",
                  "scale": {"domain": [-13.86, 10.93], "nice": false, "zero": false},
                  "axis": {"title": "PCoA Axis 2 [7.4%]", "values": [-12.5, -10, -7.5, -5, -2.5, 0, 2.5, 5, 7.5, 10],
                    "labelExpr": "datum.value % 5 === 0 ? datum.label : ''",
                    "gridColor": {"condition": {"test": "datum.value % 5 !== 0", "value": "#F2F2F2"}, "value": "#E6E6E6"},
                    "gridWidth": {"condition": {"test": "datum.value % 5 !== 0", "value": 0.6}, "value": 1.1}}},
                "color": {"field": "home", "type": "nominal",
                  "scale": {"domain": ["1", "2", "3", "4", "5", "Control"], "range": ["#E4643E", "#F0A55C", "#F8DA89", "#A8D5E9", "#72A6D2", "#404040"]}},
                "shape": {"field": "region", "type": "nominal",
                  "scale": {"domain": ["Semi−rural", "Semi−urban"], "range": ["circle", "triangle-up"]}}
              }
            },
            {
              "title": {"text": "Fungi", "fontSize": 18, "fontWeight": "normal", "offset": 7},
              "width": 244, "height": 222,
              "data": {"name": "postFungi"},
              "mark": {"type": "point", "filled": true, "size": 55, "opacity": 1, "strokeWidth": 0},
              "encoding": {
                "x": {"field": "x", "type": "quantitative",
                  "scale": {"domain": [-9.18, 13.6], "nice": false, "zero": false},
                  "axis": {"title": "PCoA Axis 1 [6.8%]", "values": [-7.5, -5, -2.5, 0, 2.5, 5, 7.5, 10, 12.5],
                    "labelExpr": "datum.value % 5 === 0 ? datum.label : ''",
                    "gridColor": {"condition": {"test": "datum.value % 5 !== 0", "value": "#F2F2F2"}, "value": "#E6E6E6"},
                    "gridWidth": {"condition": {"test": "datum.value % 5 !== 0", "value": 0.6}, "value": 1.1}}},
                "y": {"field": "y", "type": "quantitative",
                  "scale": {"domain": [-10.63, 15.47], "nice": false, "zero": false},
                  "axis": {"title": "PCoA Axis 2 [5.3%]", "values": [-10, -7.5, -5, -2.5, 0, 2.5, 5, 7.5, 10, 12.5, 15],
                    "labelExpr": "datum.value % 5 === 0 ? datum.label : ''",
                    "gridColor": {"condition": {"test": "datum.value % 5 !== 0", "value": "#F2F2F2"}, "value": "#E6E6E6"},
                    "gridWidth": {"condition": {"test": "datum.value % 5 !== 0", "value": 0.6}, "value": 1.1}}},
                "color": {"field": "home", "type": "nominal",
                  "scale": {"domain": ["1", "2", "3", "4", "5", "Control"], "range": ["#E4643E", "#F0A55C", "#F8DA89", "#A8D5E9", "#72A6D2", "#404040"]}},
                "shape": {"field": "region", "type": "nominal",
                  "scale": {"domain": ["Semi−rural", "Semi−urban"], "range": ["circle", "triangle-up"]}}
              }
            }
          ]
        }
      ]
    }
  ]
}
